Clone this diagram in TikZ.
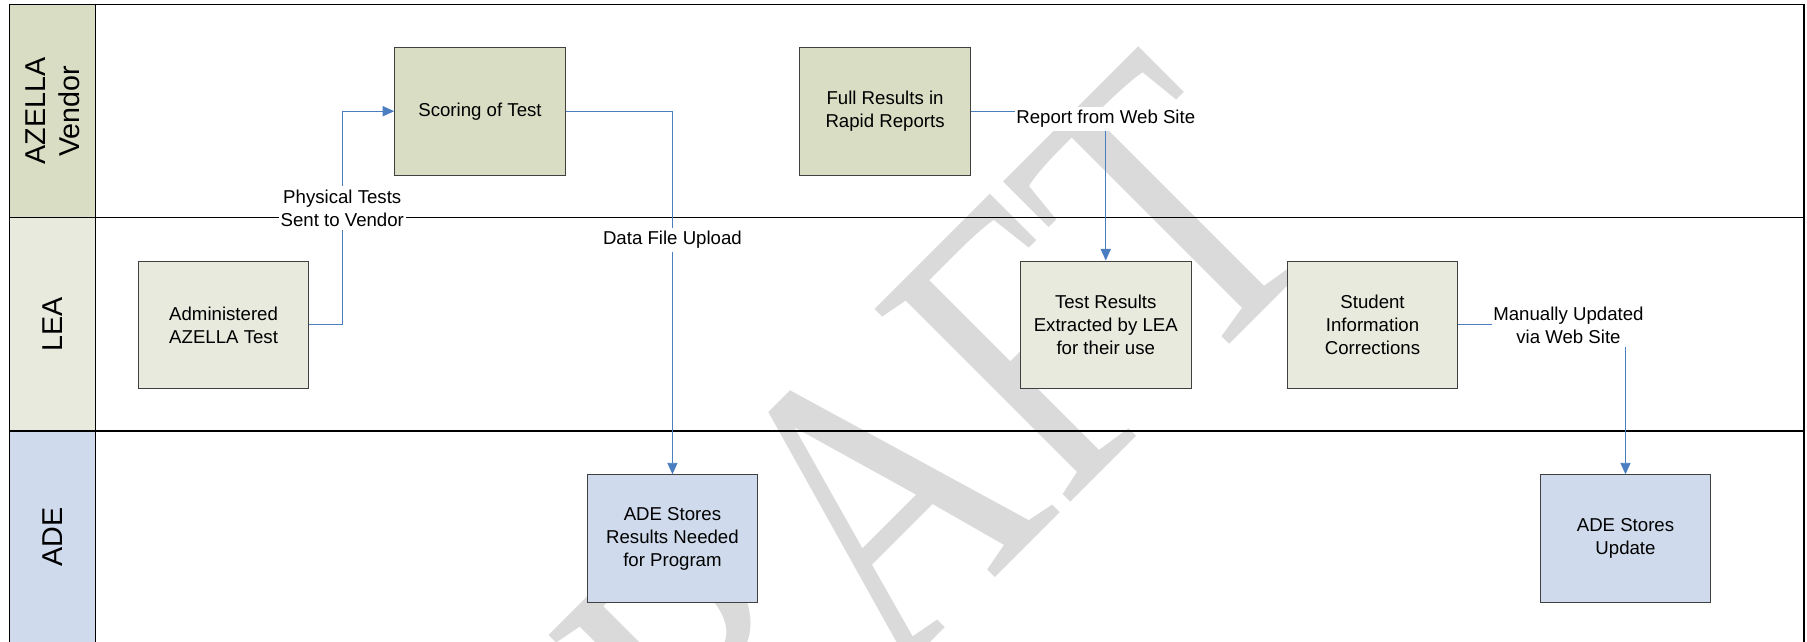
\documentclass[tikz,border=0pt]{standalone}
\usepackage{fontspec}
\setmainfont{Liberation Sans}
\newfontfamily\wmfont{Liberation Serif}
\usetikzlibrary{arrows.meta}
\definecolor{vendfill}{HTML}{D8DDC4}
\definecolor{leafill}{HTML}{E8EADE}
\definecolor{adefill}{HTML}{CFDBEC}
\definecolor{conn}{HTML}{4A7EC0}
\definecolor{wmgray}{HTML}{DADADA}
\begin{document}
\begin{tikzpicture}[x=0.025cm,y=-0.025cm,
  proc/.style={draw=black!75, line width=0.6pt, minimum width=3.7cm, minimum height=2.775cm,
    align=center, inner sep=2pt, font=\fontsize{11.5}{14.2}\selectfont},
  vend/.style={proc, fill=vendfill},
  leab/.style={proc, fill=leafill},
  adeb/.style={proc, fill=adefill},
  lbl/.style={fill=white, inner xsep=1pt, inner ysep=2pt, align=center, font=\fontsize{11.5}{14.2}\selectfont},
  flow/.style={draw=conn, line width=0.6pt, -{Triangle[length=0.25cm,width=0.22cm]}},
  lane/.style={line width=0.8pt, draw=black},
  hdr/.style={rotate=90, align=center, font=\fontsize{17.7}{21}\selectfont}
]
\useasboundingbox (0,0) rectangle (1568,557);
% header fills
\fill[vendfill] (8,4) rectangle (83,189);
\fill[leafill] (8,189) rectangle (83,374);
\fill[adefill] (8,374) rectangle (83,560);
% watermark
\begin{scope}
  \clip (83,4) rectangle (1565,557);
  \begin{scope}[cm={1.449,1.449,-1.831,1.831,(491.4,873.6)}]
    \node[transform shape, anchor=base west, inner sep=0pt, text=wmgray,
      font=\wmfont\fontsize{100}{100}\selectfont] (wm) at (0,0) {DRAFT};
  \end{scope}
\end{scope}
% lane lines
\draw[lane] (8,560) -- (8,4) -- (1565.5,4) -- (1565.5,560);
\draw[lane] (83,4) -- (83,560);
\draw[lane] (8,189) -- (1565.5,189);
\draw[lane] (8,374) -- (1565.5,374);
% headers
\node[hdr] (hv) at (45.5,96.5) {AZELLA\\Vendor};
\node[hdr] (hl) at (45.5,281.5) {LEA};
\node[hdr] (ha) at (45.5,466) {ADE};
% boxes
\node[vend] (scoring) at (416.5,96.5) {Scoring of Test};
\node[vend] (full) at (768,96.5) {Full Results in\\Rapid Reports};
\node[leab] (admin) at (194,282) {Administered\\AZELLA Test};
\node[leab] (testres) at (959.5,282) {Test Results\\Extracted by LEA\\for their use};
\node[leab] (student) at (1191,282) {Student\\Information\\Corrections};
\node[adeb] (adestore) at (583.5,467.5) {ADE Stores\\Results Needed\\for Program};
\node[adeb] (adeupd) at (1410.5,467.5) {ADE Stores\\Update};
% connectors
\draw[flow] (admin.east) -- ++(29,0) |- (scoring.west);
\draw[flow] (scoring.east) -| (adestore.north);
\draw[flow] (full.east) -| (testres.north);
\draw[flow] (student.east) -| (adeupd.north);
% labels
\node[lbl] (l1) at (297,180.5) {Physical Tests\\Sent to Vendor};
\node[lbl] (l2) at (583.5,208) {Data File Upload};
\node[lbl] (l3) at (959.5,103) {Report from Web Site};
\node[lbl] (l4) at (1361,282) {Manually Updated\\via Web Site};
\end{tikzpicture}
\end{document}
